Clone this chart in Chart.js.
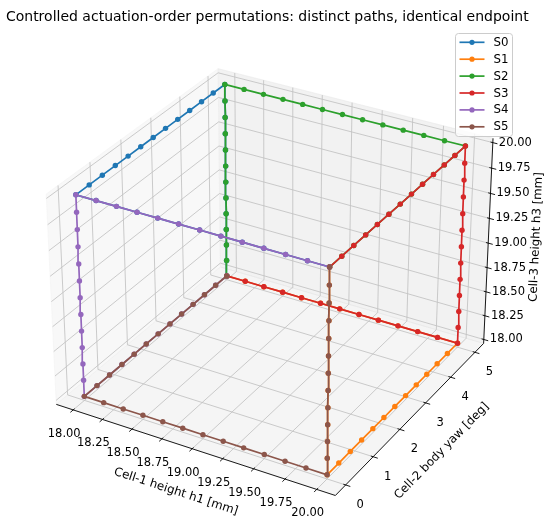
<!DOCTYPE html>
<html><head><meta charset="utf-8">
<script src="https://cdn.jsdelivr.net/npm/chart.js@4.4.1/dist/chart.umd.min.js"></script>
<style>html,body{margin:0;padding:0;background:#fff;overflow:hidden}canvas{display:block}</style>
</head><body>
<canvas id="c" width="550" height="529"></canvas>
<script>
// ---------------- data ----------------
const TITLE = 'Controlled actuation-order permutations: distinct paths, identical endpoint';
const SERIES = ['S0', 'S1', 'S2', 'S3', 'S4', 'S5'];
const COLORS = ['#1f77b4', '#ff7f0e', '#2ca02c', '#d62728', '#9467bd', '#8c564b'];
const START_H1 = 18.00, START_YAW = 5.00, START_H3 = 18.00;
const H1_STEPS  = [18.00, 18.1667, 18.3333, 18.50, 18.6667, 18.8333, 19.00, 19.1667, 19.3333, 19.50, 19.6667, 19.8333, 20.00];
const YAW_STEPS = [5.00, 4.5833, 4.1667, 3.75, 3.3333, 2.9167, 2.50, 2.0833, 1.6667, 1.25, 0.8333, 0.4167, 0.00];
const H3_STEPS  = [18.00, 18.1667, 18.3333, 18.50, 18.6667, 18.8333, 19.00, 19.1667, 19.3333, 19.50, 19.6667, 19.8333, 20.00];
const ORDER_S0 = ['h3', 'yaw', 'h1'];
const ORDER_S1 = ['h1', 'yaw', 'h3'];
const ORDER_S2 = ['h3', 'h1', 'yaw'];
const ORDER_S3 = ['h1', 'h3', 'yaw'];
const ORDER_S4 = ['yaw', 'h3', 'h1'];
const ORDER_S5 = ['yaw', 'h1', 'h3'];
const ORDERS = [ORDER_S0, ORDER_S1, ORDER_S2, ORDER_S3, ORDER_S4, ORDER_S5];
const X_TICKS = [18.00, 18.25, 18.50, 18.75, 19.00, 19.25, 19.50, 19.75, 20.00];
const X_TICK_LABELS = ['18.00', '18.25', '18.50', '18.75', '19.00', '19.25', '19.50', '19.75', '20.00'];
const Y_TICKS = [0, 1, 2, 3, 4, 5];
const Y_TICK_LABELS = ['0', '1', '2', '3', '4', '5'];
const Z_TICKS = [18.00, 18.25, 18.50, 18.75, 19.00, 19.25, 19.50, 19.75, 20.00];
const Z_TICK_LABELS = ['18.00', '18.25', '18.50', '18.75', '19.00', '19.25', '19.50', '19.75', '20.00'];
const X_LABEL = 'Cell-1 height h1 [mm]';
const Y_LABEL = 'Cell-2 body yaw [deg]';
const Z_LABEL = 'Cell-3 height h3 [mm]';
const XLIM = [17.9, 20.1], YLIM = [-0.25, 5.25], ZLIM = [18.0, 20.0];

// ---------------- 3D view (matplotlib-like) ----------------
const ELEV = 30, AZIM = -60, DIST = 10;
const CX = 273.9, CY = 271.9, K = 2712, CW = 550, CH = 529;
const BOX = (() => { const a = [4, 4, 3]; const n = Math.hypot(...a); return a.map(v => v * 1.8294640721620434 / n); })();
const er = ELEV * Math.PI / 180, ar = AZIM * Math.PI / 180;
const Wv = [Math.cos(er) * Math.cos(ar), Math.cos(er) * Math.sin(ar), Math.sin(er)];
const Uv = (() => { const u = [-Wv[1], Wv[0], 0]; const n = Math.hypot(...u); return u.map(v => v / n); })();
const Vv = [Wv[1] * Uv[2] - Wv[2] * Uv[1], Wv[2] * Uv[0] - Wv[0] * Uv[2], Wv[0] * Uv[1] - Wv[1] * Uv[0]];
const dot = (a, b) => a[0] * b[0] + a[1] * b[1] + a[2] * b[2];
function proj(x, y, z) {
  const p = [
    (x - XLIM[0]) / (XLIM[1] - XLIM[0]) * BOX[0] - BOX[0] / 2,
    (y - YLIM[0]) / (YLIM[1] - YLIM[0]) * BOX[1] - BOX[1] / 2,
    (z - ZLIM[0]) / (ZLIM[1] - ZLIM[0]) * BOX[2] - BOX[2] / 2
  ];
  const zv = dot(p, Wv) - DIST;
  return { x: dot(p, Uv) / (-zv), y: dot(p, Vv) / (-zv) };
}
// pane bounds (padded like mplot3d)
const xp = [XLIM[0] - (XLIM[1] - XLIM[0]) / 48, XLIM[1] + (XLIM[1] - XLIM[0]) / 48];
const yp = [YLIM[0] - (YLIM[1] - YLIM[0]) / 48, YLIM[1] + (YLIM[1] - YLIM[0]) / 48];
const zp = [ZLIM[0] - (ZLIM[1] - ZLIM[0]) / 48, ZLIM[1] + (ZLIM[1] - ZLIM[0]) / 48];
const dX = (XLIM[1] - XLIM[0]) / 12, dY = (YLIM[1] - YLIM[0]) / 12;

// ---------------- build datasets ----------------
const STEPS = { h1: H1_STEPS, yaw: YAW_STEPS, h3: H3_STEPS };
function buildPath(order) {
  const s = { h1: START_H1, yaw: START_YAW, h3: START_H3 };
  const pts = [[s.h1, s.yaw, s.h3]];
  order.forEach(k => STEPS[k].slice(1).forEach(v => { s[k] = v; pts.push([s.h1, s.yaw, s.h3]); }));
  return pts;
}
const toXY = pts => pts.map(p => proj(p[0], p[1], p[2]));
const datasets = [];
function struct(pts, color, width, order, extra) {
  datasets.push(Object.assign({
    type: 'line', data: toXY(pts), borderColor: color, borderWidth: width,
    pointRadius: 0, pointHoverRadius: 0, fill: false, tension: 0, order: order, clip: false
  }, extra || {}));
}
// panes
struct([[xp[0], yp[0], zp[0]], [xp[0], yp[1], zp[0]], [xp[0], yp[1], zp[1]], [xp[0], yp[0], zp[1]], [xp[0], yp[0], zp[0]]],
  'rgba(242,242,242,0.5)', 1, 100, { fill: 'shape', backgroundColor: 'rgba(242,242,242,0.5)' });
struct([[xp[0], yp[1], zp[0]], [xp[1], yp[1], zp[0]], [xp[1], yp[1], zp[1]], [xp[0], yp[1], zp[1]], [xp[0], yp[1], zp[0]]],
  'rgba(230,230,230,0.5)', 1, 100, { fill: 'shape', backgroundColor: 'rgba(230,230,230,0.5)' });
struct([[xp[0], yp[0], zp[0]], [xp[1], yp[0], zp[0]], [xp[1], yp[1], zp[0]], [xp[0], yp[1], zp[0]], [xp[0], yp[0], zp[0]]],
  'rgba(236,236,236,0.5)', 1, 100, { fill: 'shape', backgroundColor: 'rgba(236,236,236,0.5)' });
// grid
const GRID = '#c2c2c2', GW = 0.85;
X_TICKS.forEach(t => struct([[t, yp[0], zp[0]], [t, yp[1], zp[0]], [t, yp[1], zp[1]]], GRID, GW, 90));
Y_TICKS.forEach(t => struct([[xp[0], t, zp[1]], [xp[0], t, zp[0]], [xp[1], t, zp[0]]], GRID, GW, 90));
Z_TICKS.forEach(t => struct([[xp[1], yp[1], t], [xp[0], yp[1], t], [xp[0], yp[0], t]], GRID, GW, 90));
// axis lines
struct([[xp[0], yp[0], zp[0]], [xp[1], yp[0], zp[0]]], '#000', 0.9, 80);
struct([[xp[1], yp[0], zp[0]], [xp[1], yp[1], zp[0]]], '#000', 0.9, 80);
struct([[xp[1], yp[1], zp[0]], [xp[1], yp[1], zp[1]]], '#000', 0.9, 80);
// tick marks
X_TICKS.forEach(t => struct([[t, yp[0] - 0.2 * dY, zp[0]], [t, yp[0] + 0.1 * dY, zp[0]]], '#000', 0.9, 80));
Y_TICKS.forEach(t => struct([[xp[1] - 0.1 * dX, t, zp[0]], [xp[1] + 0.2 * dX, t, zp[0]]], '#000', 0.9, 80));
Z_TICKS.forEach(t => struct([[xp[1] - 0.1 * dX, yp[1], t], [xp[1] + 0.2 * dX, yp[1], t]], '#000', 0.9, 80));
// series
SERIES.forEach((name, i) => {
  datasets.push({
    type: 'line', label: name, data: toXY(buildPath(ORDERS[i])),
    borderColor: COLORS[i], backgroundColor: COLORS[i], borderWidth: 1.7,
    pointRadius: 2.7, pointBorderWidth: 0, pointBackgroundColor: COLORS[i], pointHoverRadius: 2.7,
    fill: false, tension: 0, order: 10 - i, clip: false
  });
});

// ---------------- text plugin ----------------
const FONT = '"DejaVu Sans", "Liberation Sans", sans-serif';
const textPlugin = {
  id: 'texts3d',
  afterDraw(chart) {
    const ctx = chart.ctx, sx = chart.scales.x, sy = chart.scales.y;
    const P = (x, y, z) => { const q = proj(x, y, z); return [sx.getPixelForValue(q.x), sy.getPixelForValue(q.y)]; };
    ctx.save();
    ctx.fillStyle = '#000';
    ctx.textAlign = 'center'; ctx.textBaseline = 'middle';
    ctx.font = '11.5px ' + FONT;
    X_TICKS.forEach((t, i) => { const [px, py] = P(t, yp[0], zp[0]); ctx.fillText(X_TICK_LABELS[i], px - 9, py + 24); });
    Y_TICKS.forEach((t, i) => { const [px, py] = P(xp[1], t, zp[0]); ctx.fillText(Y_TICK_LABELS[i], px + 14.5, py + 20); });
    Z_TICKS.forEach((t, i) => { const [px, py] = P(xp[1], yp[1], t); ctx.fillText(Z_TICK_LABELS[i], px + 22.5, py); });
    const lab = (text, a, b, dx, dy) => {
      const ang = Math.atan2(b[1] - a[1], b[0] - a[0]);
      const mx = (a[0] + b[0]) / 2 + dx, my = (a[1] + b[1]) / 2 + dy;
      ctx.save(); ctx.translate(mx, my); ctx.rotate(ang); ctx.fillText(text, 0, 0); ctx.restore();
    };
    ctx.font = '11.8px ' + FONT;
    lab(X_LABEL, P(XLIM[0] + 0.1, yp[0], zp[0]), P(XLIM[1] - 0.1, yp[0], zp[0]), -19, 42);
    lab(Y_LABEL, P(xp[1], YLIM[0] + 0.25, zp[0]), P(xp[1], YLIM[1] - 0.25, zp[0]), 31.5, 32.4);
    lab(Z_LABEL, P(xp[1], yp[1], ZLIM[0]), P(xp[1], yp[1], ZLIM[1]), 48, -4);
    // title
    ctx.font = '14px ' + FONT; ctx.textBaseline = 'alphabetic';
    ctx.fillText(TITLE, 267.3, 20.5);
    // legend
    const lx = 455.5, ly = 33.5, lw = 57, lh = 103, r = 3;
    ctx.beginPath();
    ctx.moveTo(lx + r, ly); ctx.lineTo(lx + lw - r, ly); ctx.arcTo(lx + lw, ly, lx + lw, ly + r, r);
    ctx.lineTo(lx + lw, ly + lh - r); ctx.arcTo(lx + lw, ly + lh, lx + lw - r, ly + lh, r);
    ctx.lineTo(lx + r, ly + lh); ctx.arcTo(lx, ly + lh, lx, ly + lh - r, r);
    ctx.lineTo(lx, ly + r); ctx.arcTo(lx, ly, lx + r, ly, r); ctx.closePath();
    ctx.fillStyle = 'rgba(255,255,255,0.8)'; ctx.fill();
    ctx.strokeStyle = '#cccccc'; ctx.lineWidth = 1; ctx.stroke();
    ctx.font = '11.8px ' + FONT; ctx.textAlign = 'left'; ctx.textBaseline = 'middle';
    SERIES.forEach((name, i) => {
      const y = 42.3 + 16.9 * i;
      ctx.strokeStyle = COLORS[i]; ctx.lineWidth = 1.7;
      ctx.beginPath(); ctx.moveTo(459.5, y); ctx.lineTo(484.5, y); ctx.stroke();
      ctx.fillStyle = COLORS[i]; ctx.beginPath(); ctx.arc(472, y, 2.6, 0, Math.PI * 2); ctx.fill();
      ctx.fillStyle = '#000'; ctx.fillText(name, 493.5, y + 0.5);
    });
    ctx.restore();
  }
};

new Chart(document.getElementById('c'), {
  type: 'line',
  data: { datasets: datasets },
  options: {
    responsive: false, animation: false, events: [],
    layout: { padding: 0 },
    plugins: { legend: { display: false }, title: { display: false }, tooltip: { enabled: false } },
    scales: {
      x: { type: 'linear', display: false, min: -CX / K, max: (CW - CX) / K },
      y: { type: 'linear', display: false, min: (CY - CH) / K, max: CY / K }
    }
  },
  plugins: [textPlugin]
});
</script>
</body></html>
